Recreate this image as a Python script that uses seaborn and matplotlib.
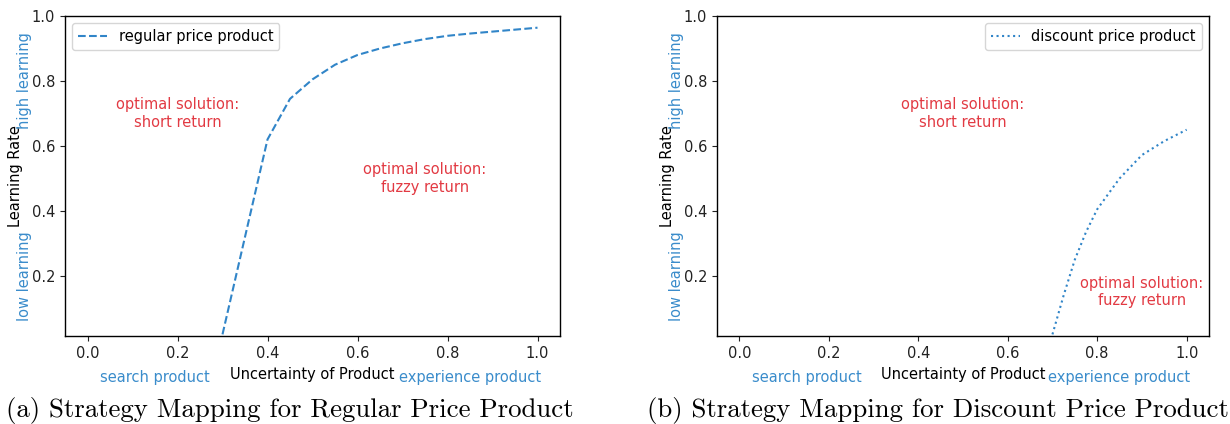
import matplotlib
matplotlib.use("Agg")
import matplotlib.pyplot as plt
import matplotlib.transforms as mtransforms
import pandas as pd
import seaborn as sns

# Learning-rate curves against product uncertainty
regular_uncertainty = [0.30, 0.40, 0.45, 0.50, 0.55, 0.60, 0.65, 0.70, 0.75, 0.80, 0.85, 0.90, 0.95, 1.00]
regular_learning = [0.02, 0.62, 0.745, 0.805, 0.85, 0.88, 0.90, 0.916, 0.929, 0.939, 0.946, 0.952, 0.958, 0.964]

discount_uncertainty = [0.70, 0.725, 0.75, 0.775, 0.80, 0.85, 0.90, 0.95, 1.00]
discount_learning = [0.02, 0.14, 0.25, 0.335, 0.405, 0.50, 0.572, 0.615, 0.65]

x_ticks = [0.0, 0.2, 0.4, 0.6, 0.8, 1.0]
y_ticks = [0.2, 0.4, 0.6, 0.8, 1.0]

series_labels = ["regular price product", "discount price product"]
captions = ["(a) Strategy Mapping for Regular Price Product",
            "(b) Strategy Mapping for Discount Price Product"]
region_notes = ["optimal solution:\nshort return", "optimal solution:\nfuzzy return"]
x_side_labels = ["search product", "experience product"]
y_side_labels = ["low learning", "high learning"]

LINE_BLUE = "#3185c8"
TEXT_BLUE = "#3a8ccb"
NOTE_RED = "#e23a43"

sns.set_theme(style="ticks", rc={
    "font.size": 10.5,
    "axes.labelsize": 10.5,
    "xtick.labelsize": 10.5,
    "ytick.labelsize": 10.5,
    "legend.fontsize": 10.5,
    "axes.edgecolor": "black",
    "axes.linewidth": 1.0,
    "xtick.color": "#222222",
    "ytick.color": "#222222",
    "xtick.major.size": 3.5,
    "ytick.major.size": 3.5,
    "xtick.major.width": 0.8,
    "ytick.major.width": 0.8,
    "axes.labelcolor": "black",
    "text.color": "black",
    "legend.edgecolor": "0.8",
    "legend.framealpha": 0.8,
    "legend.fancybox": True,
})
plt.rcParams["font.family"] = ["DejaVu Sans"]

W, H = 1230, 424
fig = plt.figure(figsize=(W / 100, H / 100), dpi=100)
ax1 = fig.add_axes([65 / W, 88 / H, 495 / W, 320 / H])
ax2 = fig.add_axes([717 / W, 88 / H, 492 / W, 320 / H])

regular = pd.DataFrame({"uncertainty": regular_uncertainty, "learning": regular_learning})
discount = pd.DataFrame({"uncertainty": discount_uncertainty, "learning": discount_learning})

sns.lineplot(data=regular, x="uncertainty", y="learning", ax=ax1,
             color=LINE_BLUE, linestyle="--", linewidth=1.5, label=series_labels[0])
sns.lineplot(data=discount, x="uncertainty", y="learning", ax=ax2,
             color=LINE_BLUE, linestyle=":", linewidth=1.5, label=series_labels[1])

# note positions (data coordinates) for each panel
note_positions = [
    [(0.20, 0.70), (0.75, 0.50)],
    [(0.50, 0.70), (0.90, 0.15)],
]
legend_locs = ["upper left", "upper right"]

for ax, notes, loc in zip([ax1, ax2], note_positions, legend_locs):
    ax.set_xlim(-0.05, 1.05)
    ax.set_ylim(0.015, 1.0)
    ax.set_xticks(x_ticks)
    ax.set_yticks(y_ticks)
    ax.set_xticklabels([f"{t:.1f}" for t in x_ticks])
    ax.set_yticklabels([f"{t:.1f}" for t in y_ticks])
    for side in ["top", "right", "bottom", "left"]:
        ax.spines[side].set_visible(True)
        ax.spines[side].set_color("black")
    ax.tick_params(top=False, right=False)

    ax.set_xlabel("Uncertainty of Product")
    ax.set_ylabel("Learning Rate")
    ax.xaxis.set_label_coords(0.5, -0.097)
    ax.yaxis.set_label_coords(-0.085, 0.5)

    for (nx, ny), note in zip(notes, region_notes):
        ax.text(nx, ny, note, color=NOTE_RED, ha="center", va="center",
                fontsize=10.5)

    xt = mtransforms.blended_transform_factory(ax.transData, ax.transAxes)
    ax.text(0.15, -0.131, x_side_labels[0], transform=xt, color=TEXT_BLUE,
            ha="center", va="center", fontsize=10.5)
    ax.text(0.85, -0.131, x_side_labels[1], transform=xt, color=TEXT_BLUE,
            ha="center", va="center", fontsize=10.5)

    ax.text(-0.14, 0.2, y_side_labels[0], color=TEXT_BLUE, rotation=90,
            ha="center", va="center", fontsize=10.5, clip_on=False)
    ax.text(-0.14, 0.8, y_side_labels[1], color=TEXT_BLUE, rotation=90,
            ha="center", va="center", fontsize=10.5, clip_on=False)

    ax.legend(loc=loc)

fig.text(290 / W, 13 / H, captions[0], family="cmr10", fontsize=19.3,
         ha="center", va="center")
fig.text(938 / W, 13 / H, captions[1], family="cmr10", fontsize=19.3,
         ha="center", va="center")

fig.savefig("out.png", dpi=100, facecolor="white")
